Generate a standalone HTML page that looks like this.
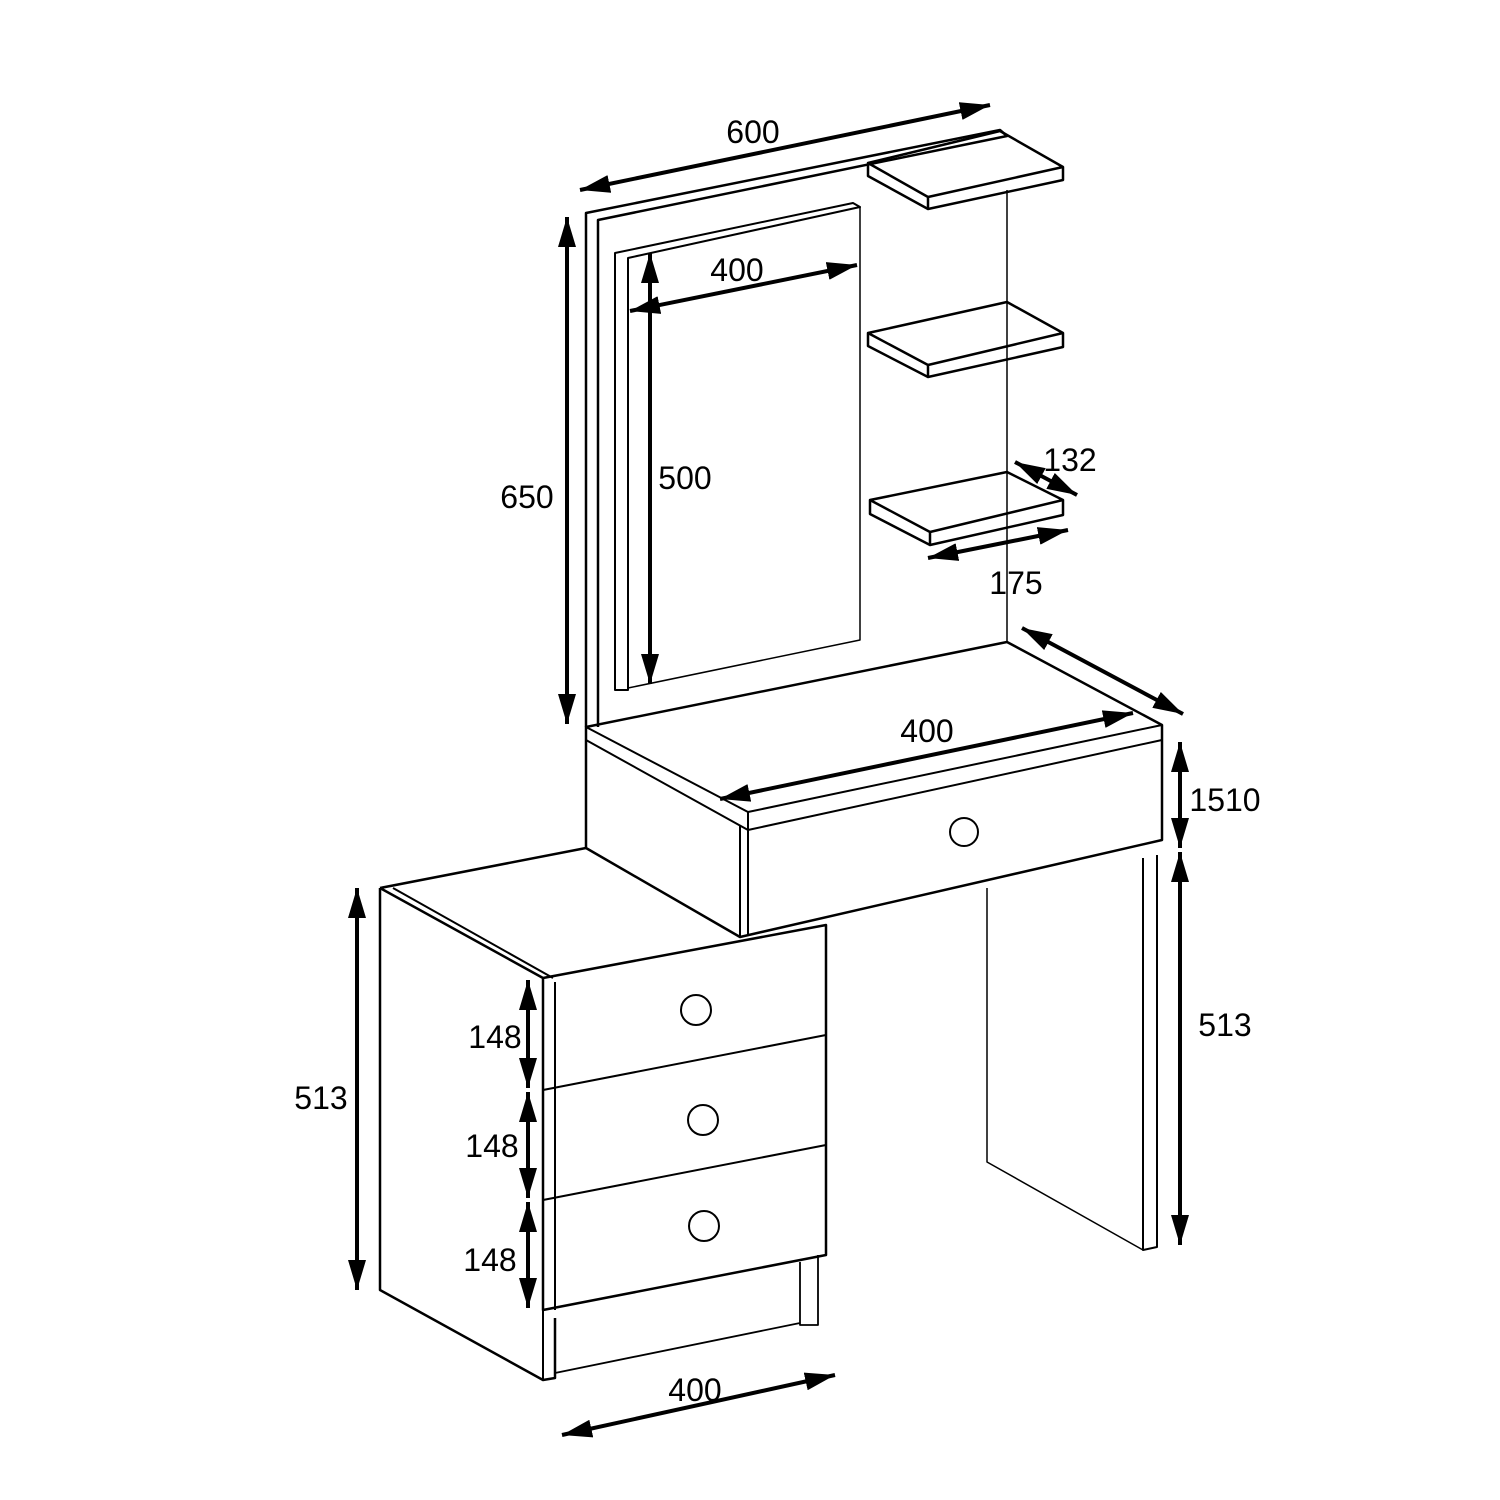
<!DOCTYPE html>
<html><head><meta charset="utf-8"><style>
html,body{margin:0;padding:0;background:#fff;}
svg{display:block}
text{font-family:"Liberation Sans",Arial,sans-serif;font-size:32px;fill:#000}
</style></head><body>
<svg width="1500" height="1500" viewBox="0 0 1500 1500" xmlns="http://www.w3.org/2000/svg">
<defs>
<marker id="b" viewBox="0 0 30 18" refX="30" refY="9" markerWidth="30" markerHeight="18" markerUnits="userSpaceOnUse" orient="auto-start-reverse"><path d="M0,0L30,9L0,18z" fill="#000"/></marker>
</defs>
<g fill="none" stroke="#000" stroke-width="2" stroke-linejoin="round">
<!-- back panel -->
<path d="M586,727 L586,213 L1000,130 L1007,136 L598,220 L598,727" stroke-width="2.5"/>
<path d="M1007,190 L1007,642" stroke-width="1.5"/>
<!-- mirror -->
<path d="M615,690 L615,253 L853,203 L860,207 L628,258 L628,690 Z" />
<path d="M860,207 L860,640 L628,688" stroke-width="1.5"/>
<!-- shelves -->
<g stroke-width="2.5">
<path d="M868,163 L1000,131 L1063,167 L1063,180 L928,209 L868,176 Z"/>
<path d="M868,163 L928,197 L1063,167 M928,197 L928,209"/>
<path d="M868,333 L1007,302 L1063,333 L1063,347 L928,377 L868,346 Z"/>
<path d="M868,333 L928,365 L1063,333 M928,365 L928,377"/>
<path d="M870,500 L1007,472 L1063,500 L1063,515 L930,545 L870,514 Z"/>
<path d="M870,500 L930,532 L1063,500 M930,532 L930,545"/>
</g>
<!-- desk top unit -->
<path d="M586,727 L1007,642 L1162,725 L1162,840 L740,937 L586,848 Z" stroke-width="2.5"/>
<path d="M586,740 L748,830 L1162,740 M586,727 L748,812 L1162,725 M748,812 L748,935 M740,826 L740,937"/>
<circle cx="964" cy="832" r="14"/>
<!-- right leg -->
<path d="M1143,858 L1143,1250 L1157,1247 L1157,855" />
<path d="M987,888 L987,1162 L1143,1250" stroke-width="1.5"/>
<!-- left cabinet -->
<path d="M380,888 L586,848" stroke-width="2.5"/>
<path d="M380,888 L380,1290 L543,1380 L555,1378 L555,1318" stroke-width="2.5"/>
<path d="M380,888 L543,978 L826,925 L826,1255 L543,1310 L543,978" stroke-width="2.5"/>
<path d="M393,888 L553,978 M555,982 L555,1310 M543,1310 L543,1380"/>
<path d="M543,1090 L826,1035 M543,1200 L826,1145"/>
<path d="M555,1373 L800,1323 M800,1262 L800,1325 L818,1325 L818,1255" stroke-width="1.8"/>
<circle cx="696" cy="1010" r="15"/>
<circle cx="703" cy="1120" r="15"/>
<circle cx="704" cy="1226" r="15"/>
</g>
<!-- dimensions -->
<g stroke="#000" stroke-width="4" fill="none" marker-start="url(#b)" marker-end="url(#b)">
<line x1="580" y1="190" x2="990" y2="105"/>
<line x1="567" y1="217" x2="567" y2="724"/>
<line x1="630" y1="311" x2="857" y2="265"/>
<line x1="650" y1="253" x2="650" y2="684"/>
<line x1="1015" y1="462" x2="1077" y2="495"/>
<line x1="928" y1="558" x2="1068" y2="530"/>
<line x1="1022" y1="628" x2="1183" y2="714"/>
<line x1="720" y1="799" x2="1133" y2="713"/>
<line x1="1180" y1="742" x2="1180" y2="848"/>
<line x1="1180" y1="852" x2="1180" y2="1245"/>
<line x1="357" y1="888" x2="357" y2="1290"/>
<line x1="528" y1="980" x2="528" y2="1088"/>
<line x1="528" y1="1092" x2="528" y2="1198"/>
<line x1="528" y1="1202" x2="528" y2="1308"/>
<line x1="562" y1="1435" x2="835" y2="1375"/>
</g>
<text x="753" y="143" text-anchor="middle">600</text>
<text x="527" y="508" text-anchor="middle">650</text>
<text x="737" y="281" text-anchor="middle">400</text>
<text x="685" y="489" text-anchor="middle">500</text>
<text x="1070" y="471" text-anchor="middle">132</text>
<text x="1016" y="594" text-anchor="middle">175</text>
<text x="927" y="742" text-anchor="middle">400</text>
<text x="1225" y="811" text-anchor="middle">1510</text>
<text x="1225" y="1036" text-anchor="middle">513</text>
<text x="321" y="1109" text-anchor="middle">513</text>
<text x="495" y="1048" text-anchor="middle">148</text>
<text x="492" y="1157" text-anchor="middle">148</text>
<text x="490" y="1271" text-anchor="middle">148</text>
<text x="695" y="1401" text-anchor="middle">400</text>
</svg>
</body></html>
